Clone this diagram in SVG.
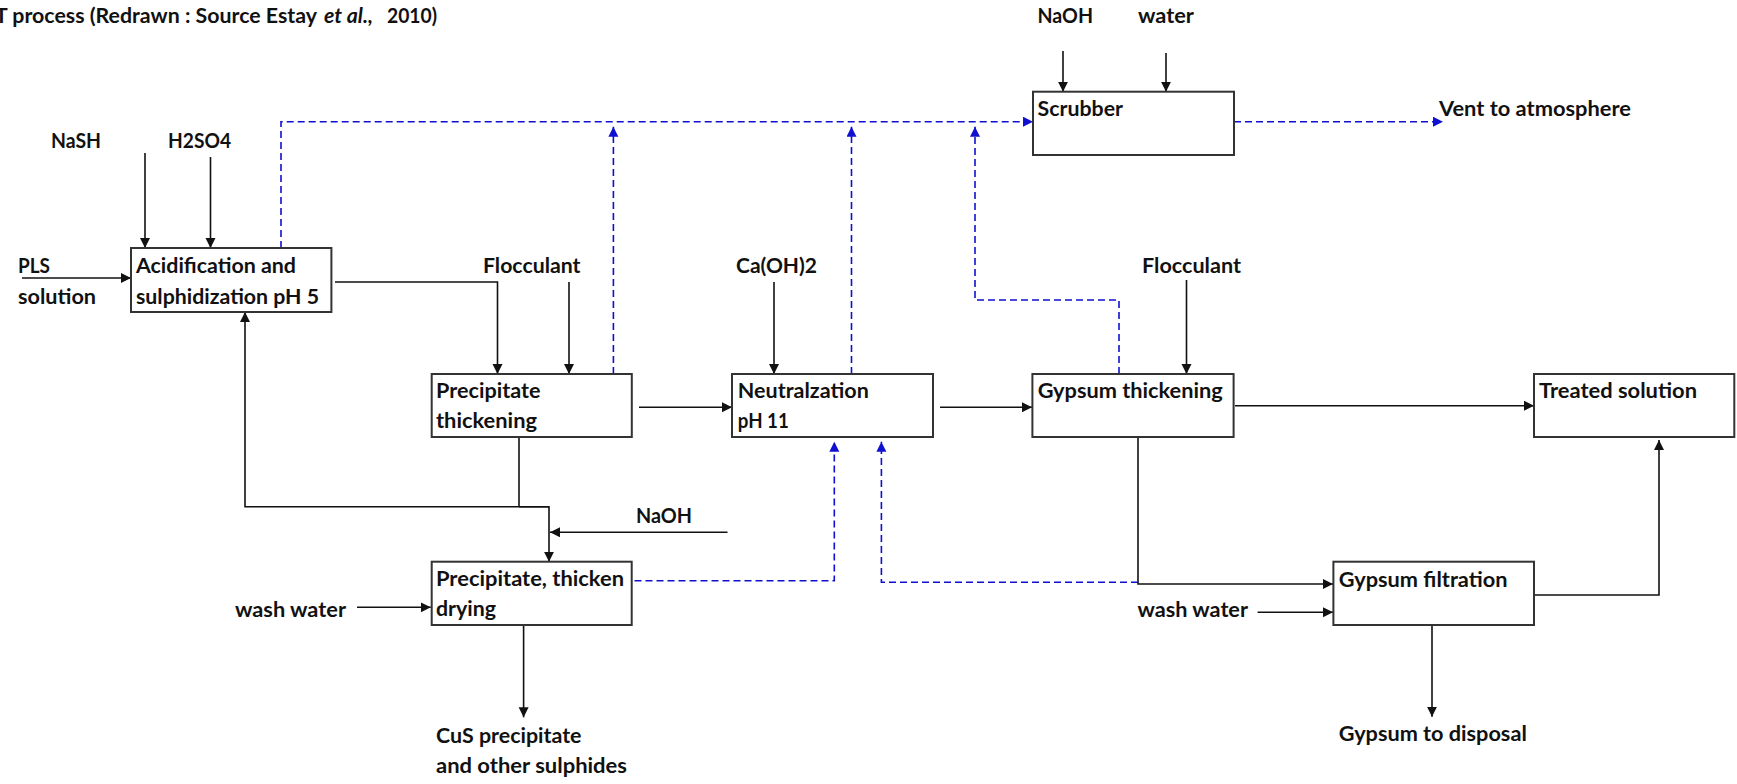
<svg xmlns="http://www.w3.org/2000/svg" width="1737" height="784" viewBox="0 0 1737 784">
<style>
text{font-family:Lato,"Liberation Sans",sans-serif;font-weight:bold;font-size:20.5px;fill:#111}
.box{fill:#fff;stroke:#333;stroke-width:2}
.ln{fill:none;stroke:#111;stroke-width:1.6}
.ar{marker-end:url(#ah)}
.ds{fill:none;stroke:#1010d0;stroke-width:1.6;stroke-dasharray:7,4}
.dar{marker-end:url(#bh)}
</style>
<defs>
<marker id="ah" markerUnits="userSpaceOnUse" markerWidth="11" markerHeight="11" refX="10" refY="5" orient="auto"><path d="M0,0 L10,5 L0,10 z" fill="#111"/></marker>
<marker id="bh" markerUnits="userSpaceOnUse" markerWidth="11" markerHeight="11" refX="10" refY="5" orient="auto"><path d="M0,0 L10,5 L0,10 z" fill="#1010d0"/></marker>
</defs>
<rect width="1737" height="784" fill="#fff"/>
<text id="title" y="23"><tspan x="-5" textLength="322" lengthAdjust="spacingAndGlyphs">T process (Redrawn : Source Estay</tspan><tspan x="324" textLength="49" lengthAdjust="spacingAndGlyphs" font-style="italic">et al.,</tspan><tspan x="387" textLength="50" lengthAdjust="spacingAndGlyphs">2010)</tspan></text>

<g id="connectors">
<line class="ln ar" x1="145" y1="153" x2="145" y2="248"/>
<line class="ln ar" x1="210.5" y1="157" x2="210.5" y2="248"/>
<line class="ln ar" x1="22" y1="278" x2="131" y2="278"/>
<polyline class="ln ar" points="335,282 497.5,282 497.5,374"/>
<line class="ln ar" x1="569" y1="282" x2="569" y2="374"/>
<line class="ln ar" x1="639" y1="407.3" x2="732" y2="407.3"/>
<line class="ln ar" x1="774" y1="282" x2="774" y2="374"/>
<line class="ln ar" x1="940" y1="407.3" x2="1032" y2="407.3"/>
<line class="ln ar" x1="1186.5" y1="280" x2="1186.5" y2="374"/>
<line class="ln ar" x1="1235" y1="405.7" x2="1534" y2="405.7"/>
<line class="ln ar" x1="1063" y1="51" x2="1063" y2="91.7"/>
<line class="ln ar" x1="1166" y1="53" x2="1166" y2="91.7"/>
<polyline class="ln" points="519,437 519,506.7"/>
<polyline class="ln ar" points="549,506.7 245,506.7 245,312"/>
<polyline class="ln ar" points="519,506.7 549,506.7 549,561.7"/>
<line class="ln ar" x1="727.5" y1="532.3" x2="550" y2="532.3"/>
<line class="ln ar" x1="357" y1="607.3" x2="430.8" y2="607.3"/>
<line class="ln ar" x1="523.6" y1="625" x2="523.6" y2="717.3"/>
<polyline class="ln ar" points="1138,437 1138,584 1333,584"/>
<line class="ln ar" x1="1257.6" y1="612.3" x2="1333" y2="612.3"/>
<polyline class="ln ar" points="1534,595 1659,595 1659,440"/>
<line class="ln ar" x1="1432" y1="625" x2="1432" y2="716.7"/>

<polyline class="ds dar" points="281,248 281,121.7 1033,121.7"/>
<line class="ds dar" x1="613.4" y1="374" x2="613.4" y2="126.7"/>
<line class="ds dar" x1="851.5" y1="374" x2="851.5" y2="126.7"/>
<polyline class="ds dar" points="1119,374 1119,300 975,300 975,126.7"/>
<line class="ds dar" x1="1234" y1="121.7" x2="1443" y2="121.7"/>
<polyline class="ds dar" points="634.5,580.7 834.3,580.7 834.3,441.7"/>
<polyline class="ds dar" points="1138,582.3 881.4,582.3 881.4,441.7"/>
</g>

<g id="labels">
<text x="51" y="148" textLength="50" lengthAdjust="spacingAndGlyphs">NaSH</text>
<text x="168" y="148" textLength="63" lengthAdjust="spacingAndGlyphs">H2SO4</text>
<text x="18" y="273" textLength="32" lengthAdjust="spacingAndGlyphs">PLS</text>
<text x="18" y="304" textLength="78" lengthAdjust="spacingAndGlyphs">solution</text>
<text x="483" y="273" textLength="97.5" lengthAdjust="spacingAndGlyphs">Flocculant</text>
<text x="736" y="273" textLength="81" lengthAdjust="spacingAndGlyphs">Ca(OH)2</text>
<text x="1037.5" y="22.5" textLength="55.5" lengthAdjust="spacingAndGlyphs">NaOH</text>
<text x="1138" y="22.5" textLength="56" lengthAdjust="spacingAndGlyphs">water</text>
<text x="1439" y="116" textLength="192" lengthAdjust="spacingAndGlyphs">Vent to atmosphere</text>
<text x="1142" y="273" textLength="99" lengthAdjust="spacingAndGlyphs">Flocculant</text>
<text x="636" y="523.3" textLength="56" lengthAdjust="spacingAndGlyphs">NaOH</text>
<text x="235" y="616.7" textLength="111" lengthAdjust="spacingAndGlyphs">wash water</text>
<text x="436" y="743.3" textLength="145.5" lengthAdjust="spacingAndGlyphs">CuS precipitate</text>
<text x="436" y="773.3" textLength="191" lengthAdjust="spacingAndGlyphs">and other sulphides</text>
<text x="1137.5" y="616.7" textLength="110.5" lengthAdjust="spacingAndGlyphs">wash water</text>
<text x="1338.8" y="741" textLength="188" lengthAdjust="spacingAndGlyphs">Gypsum to disposal</text>
</g>

<g id="acidification">
<rect class="box" x="131" y="248" width="200.4" height="64"/>
<text x="136" y="273.3" textLength="160" lengthAdjust="spacingAndGlyphs">Acidification and</text>
<text x="136" y="304" textLength="183" lengthAdjust="spacingAndGlyphs">sulphidization pH 5</text>
</g>
<g id="scrubber">
<rect class="box" x="1033" y="91.7" width="201" height="63.3"/>
<text x="1037.5" y="116" textLength="85.5" lengthAdjust="spacingAndGlyphs">Scrubber</text>
</g>
<g id="precipitate-thickening">
<rect class="box" x="431.7" y="374" width="200.1" height="63"/>
<text x="436" y="398.3" textLength="104.5" lengthAdjust="spacingAndGlyphs">Precipitate</text>
<text x="436" y="428.3" textLength="101" lengthAdjust="spacingAndGlyphs">thickening</text>
</g>
<g id="neutralization">
<rect class="box" x="732" y="374" width="201" height="63"/>
<text x="737.8" y="398.3" textLength="131" lengthAdjust="spacingAndGlyphs">Neutralzation</text>
<text x="737.8" y="428.3" textLength="51" lengthAdjust="spacingAndGlyphs">pH 11</text>
</g>
<g id="gypsum-thickening">
<rect class="box" x="1032.4" y="374" width="201.2" height="63"/>
<text x="1037.7" y="398.3" textLength="185" lengthAdjust="spacingAndGlyphs">Gypsum thickening</text>
</g>
<g id="treated-solution">
<rect class="box" x="1534" y="374" width="200.3" height="63"/>
<text x="1539" y="398.3" textLength="158" lengthAdjust="spacingAndGlyphs">Treated solution</text>
</g>
<g id="precipitate-drying">
<rect class="box" x="431.7" y="561.7" width="200" height="63.3"/>
<text x="436" y="586" textLength="188" lengthAdjust="spacingAndGlyphs">Precipitate, thicken</text>
<text x="436" y="616" textLength="60" lengthAdjust="spacingAndGlyphs">drying</text>
</g>
<g id="gypsum-filtration">
<rect class="box" x="1333.4" y="561.7" width="200.6" height="63.3"/>
<text x="1338.8" y="586.7" textLength="168.7" lengthAdjust="spacingAndGlyphs">Gypsum filtration</text>
</g>
</svg>
